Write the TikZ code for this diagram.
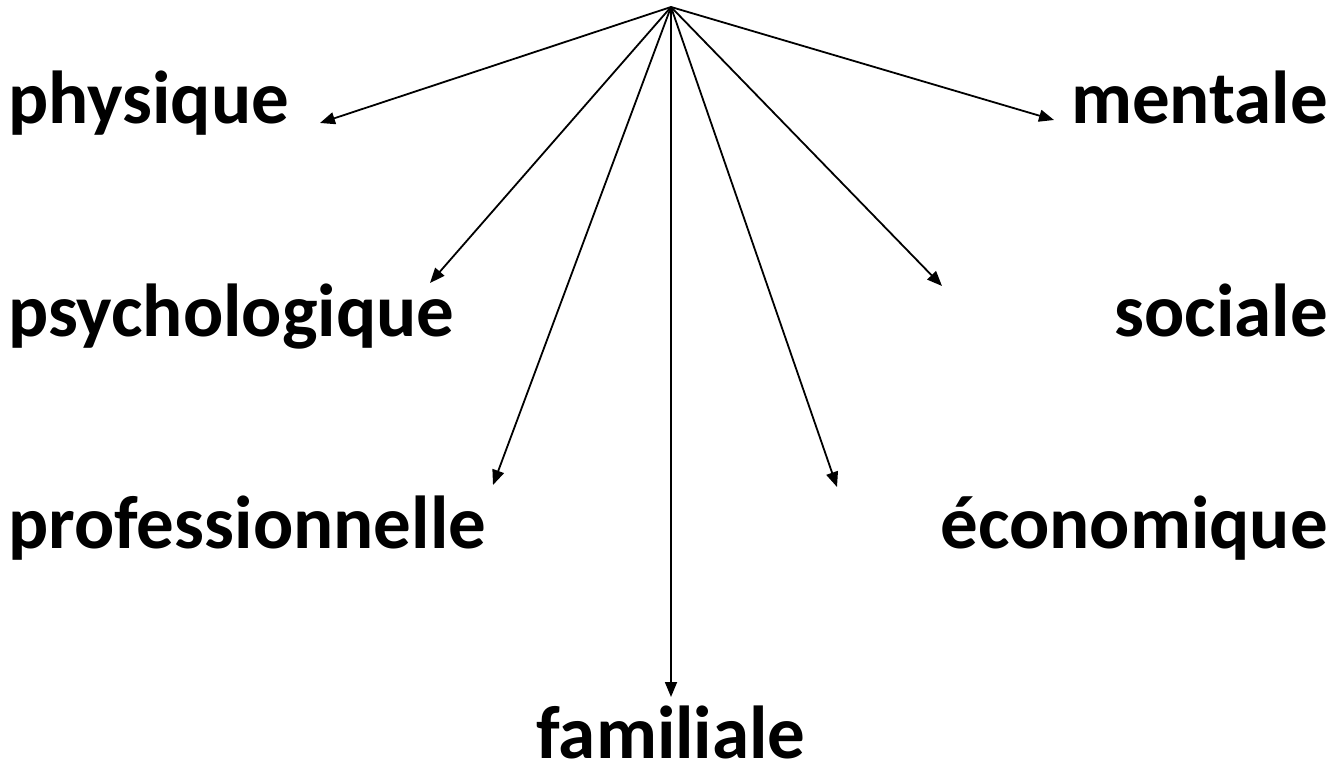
\documentclass[tikz,border=0pt]{standalone}
\usepackage{fontspec}
\setmainfont{Carlito}
\usetikzlibrary{arrows.meta}
\tikzset{
  lbl/.style={inner sep=0pt, font=\bfseries\fontsize{75}{90}\selectfont},
  conn/.style={line width=1.8pt, -{Triangle[length=15pt,width=12pt]}}
}
\begin{document}
\begin{tikzpicture}[x=1pt,y=1pt]
\useasboundingbox (0,0) rectangle (1337,768);
\coordinate (top) at (671,761);
% labels
\node[lbl, anchor=base west] (phy) at (8,644) {physique};
\node[lbl, anchor=base west] (psy) at (8,431) {psychologique};
\node[lbl, anchor=base west] (pro) at (8,219) {professionnelle};
\node[lbl, anchor=base, text depth=0pt] (fam) at (671,10) {familiale};
\node[lbl, anchor=base east] (men) at (1328,644) {mentale};
\node[lbl, anchor=base east] (soc) at (1328,431) {sociale};
\node[lbl, anchor=base east] (eco) at (1328,219) {économique};
% arrow ends
\coordinate (ephy) at (320,645);
\coordinate (epsy) at (430,485);
\coordinate (epro) at (493,283);
\coordinate (efam) at (671,71);
\coordinate (eeco) at (837,281);
\coordinate (esoc) at (942,482);
\coordinate (emen) at (1054,648);
\foreach \e in {ephy,epsy,epro,efam,eeco,esoc,emen}
  \draw[conn] (top) -- (\e);
\end{tikzpicture}
\end{document}
